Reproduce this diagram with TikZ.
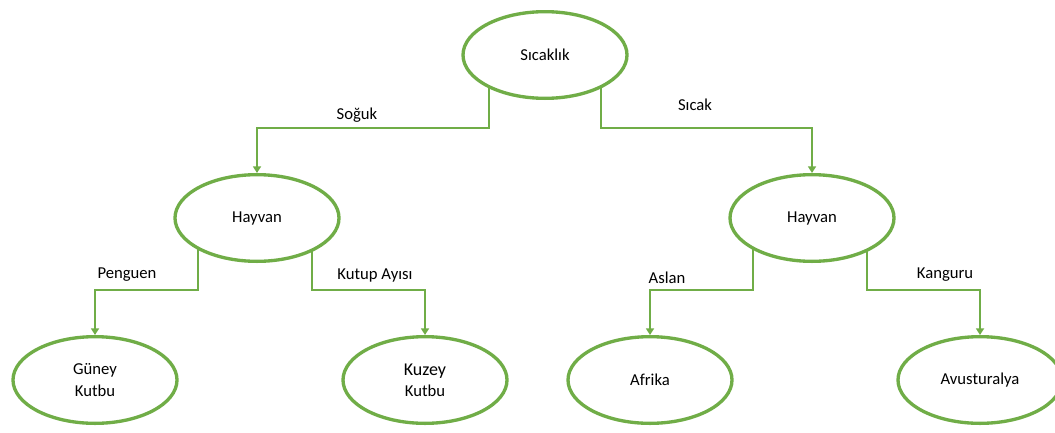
\documentclass[tikz,border=0pt]{standalone}
\usepackage{fontspec}
\setmainfont{Carlito}
\definecolor{dtgreen}{RGB}{112,173,71}
\usetikzlibrary{arrows.meta,backgrounds,shapes.geometric}

\begin{document}
\begin{tikzpicture}[x=0.75pt, y=-0.75pt, every node/.style={font=\fontsize{12.5}{16}\selectfont},
  oval/.style={ellipse, draw=dtgreen, line width=2.5pt, fill=white, minimum width=123pt, minimum height=65pt, inner sep=0pt, align=center},
  link/.style={draw=dtgreen, line width=1.5pt, -{Triangle[length=5pt,width=6pt]}},
  lbl/.style={inner sep=1pt}]
\useasboundingbox (0,0) rectangle (1055,432);
% nodes
\node[oval] (root) at (545,55) {Sıcaklık};
\node[oval] (soguk) at (257,218) {Hayvan};
\node[oval] (sicak) at (812,218) {Hayvan};
\node[oval] (guney) at (95,380) {Güney\\Kutbu};
\node[oval] (kuzey) at (425,380) {{\fontsize{13.5}{16}\selectfont Kuzey}\\Kutbu};
\node[oval] (afrika) at (650,380) {Afrika};
\node[oval] (avus) at (980,380) {Avusturalya};
% edges
\begin{scope}[on background layer]
\draw[link] ([xshift=-42]root.center) -- ++(0,73) -| (soguk);
\draw[link] ([xshift=42]root.center) -- ++(0,73) -| (sicak);
\draw[link] ([xshift=-44]soguk.center) -- ++(0,72) -| (guney);
\draw[link] ([xshift=41]soguk.center) -- ++(0,72) -| (kuzey);
\draw[link] ([xshift=-44]sicak.center) -- ++(0,72) -| (afrika);
\draw[link] ([xshift=41]sicak.center) -- ++(0,72) -| (avus);
\end{scope}
% labels
\node[lbl] (l1) at (357,115) {Soğuk};
\node[lbl] (l2) at (695,105) {Sıcak};
\node[lbl] (l3) at (127,275) {Penguen};
\node[lbl] (l4) at (375,275) {Kutup Ayısı};
\node[lbl] (l5) at (667,278) {Aslan};
\node[lbl] (l6) at (945,275) {Kanguru};
\end{tikzpicture}
\end{document}
